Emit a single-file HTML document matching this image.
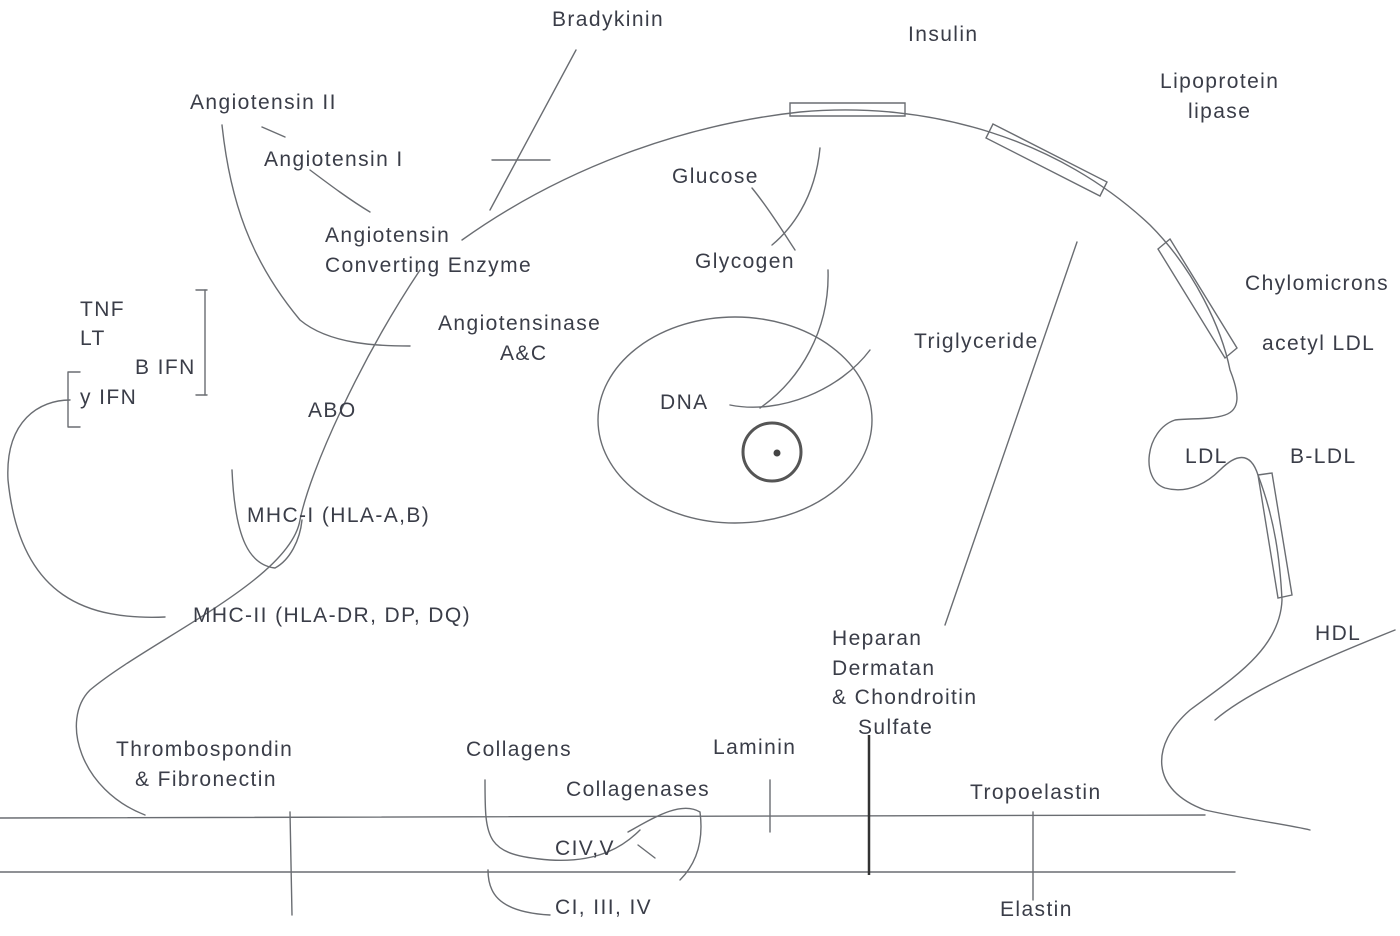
<!DOCTYPE html>
<html><head><meta charset="utf-8"><style>
html,body{margin:0;padding:0;background:#fff}
svg{display:block}
text{font-family:"Liberation Sans",sans-serif;font-size:21px;fill:#3a3d48;letter-spacing:1.4px}
</style></head><body>
<svg width="1400" height="936" viewBox="0 0 1400 936" xmlns="http://www.w3.org/2000/svg">
<g fill="none" stroke="#6a6d72" stroke-width="1.4" stroke-linecap="round">
<path d="M462,240 C560,170 680,125 800,112 C930,100 1060,140 1150,225 C1195,270 1222,330 1230,370 C1240,395 1240,410 1225,415 C1210,420 1190,418 1175,420 C1145,430 1140,480 1165,488 C1190,495 1210,480 1220,470 C1235,455 1250,450 1258,475 C1275,520 1280,560 1282,600 C1280,650 1230,680 1190,710 C1150,745 1150,790 1205,810 C1250,820 1290,825 1310,830"/>
<path d="M1395,630 C1320,660 1250,690 1215,720"/>
<path d="M790,103 L905,103 L905,116 L790,116 Z"/>
<path d="M993,124 L1107,182 L1100,196 L986,138 Z"/>
<path d="M1170,239 L1237,348 L1225,358 L1158,249 Z"/>
<path d="M1258,475 L1272,473 L1292,595 L1278,598 Z"/>
<path d="M420,270 C360,360 310,470 300,520 C290,580 150,640 90,690 C60,720 80,790 145,815"/>
<path d="M222,125 C230,200 250,260 300,320 C330,345 380,346 410,346"/>
<path d="M262,127 L285,137"/>
<path d="M310,170 C330,185 350,200 370,212"/>
<path d="M576,50 L490,210"/>
<path d="M492,160 L550,160"/>
<path d="M165,617 C90,620 20,600 8,480 C5,420 40,400 70,400"/>
<path d="M205,290 L205,395"/>
<path d="M196,290 L207,290"/>
<path d="M196,395 L207,395"/>
<path d="M68,372 L68,427 M68,372 L80,372 M68,427 L80,427"/>
<path d="M232,470 C235,540 250,565 275,568 C290,560 300,540 302,520"/>
<path d="M820,148 C815,200 790,230 772,245"/>
<path d="M752,188 C770,210 785,235 795,250"/>
<path d="M828,270 C830,330 800,380 760,408"/>
<path d="M730,405 C780,415 840,390 870,350"/>
<ellipse cx="735" cy="420" rx="137" ry="103"/>
<path d="M1077,242 L945,625"/>
<path d="M0,818 L1205,815"/>
<path d="M0,872 L1235,872"/>
<path d="M290,812 L292,915"/>
<path d="M485,780 C485,840 485,855 550,860 C600,863 625,845 640,830"/>
<path d="M488,870 C488,890 495,912 550,915"/>
<path d="M628,832 C650,820 680,800 700,812 C705,850 690,870 680,880"/>
<path d="M638,845 L655,858"/>
<path d="M770,780 L770,832"/>
<path d="M1033,812 L1033,900"/>
</g>
<path d="M869,735 L869,875" stroke="#333" stroke-width="2.5"/>
<circle cx="772" cy="452" r="29" fill="none" stroke="#555" stroke-width="3"/>
<circle cx="777" cy="453" r="3.5" fill="#444"/>
<text x="552" y="26">Bradykinin</text>
<text x="908" y="41">Insulin</text>
<text x="1160" y="88">Lipoprotein</text>
<text x="1188" y="118">lipase</text>
<text x="190" y="109">Angiotensin II</text>
<text x="264" y="166">Angiotensin I</text>
<text x="325" y="242">Angiotensin</text>
<text x="325" y="272">Converting Enzyme</text>
<text x="672" y="183">Glucose</text>
<text x="695" y="268">Glycogen</text>
<text x="1245" y="290">Chylomicrons</text>
<text x="1262" y="350">acetyl LDL</text>
<text x="438" y="330">Angiotensinase</text>
<text x="500" y="360">A&amp;C</text>
<text x="914" y="348">Triglyceride</text>
<text x="80" y="316">TNF</text>
<text x="80" y="345">LT</text>
<text x="135" y="374">B IFN</text>
<text x="80" y="404">y IFN</text>
<text x="308" y="417">ABO</text>
<text x="660" y="409">DNA</text>
<text x="1185" y="463">LDL</text>
<text x="1290" y="463">B-LDL</text>
<text x="247" y="522">MHC-I (HLA-A,B)</text>
<text x="193" y="622">MHC-II (HLA-DR, DP, DQ)</text>
<text x="1315" y="640">HDL</text>
<text x="832" y="645">Heparan</text>
<text x="832" y="675">Dermatan</text>
<text x="832" y="704">&amp; Chondroitin</text>
<text x="858" y="734">Sulfate</text>
<text x="116" y="756">Thrombospondin</text>
<text x="135" y="786">&amp; Fibronectin</text>
<text x="466" y="756">Collagens</text>
<text x="713" y="754">Laminin</text>
<text x="566" y="796">Collagenases</text>
<text x="970" y="799">Tropoelastin</text>
<text x="555" y="855">CIV,V</text>
<text x="555" y="914">CI, III, IV</text>
<text x="1000" y="916">Elastin</text>
</svg>
</body></html>
